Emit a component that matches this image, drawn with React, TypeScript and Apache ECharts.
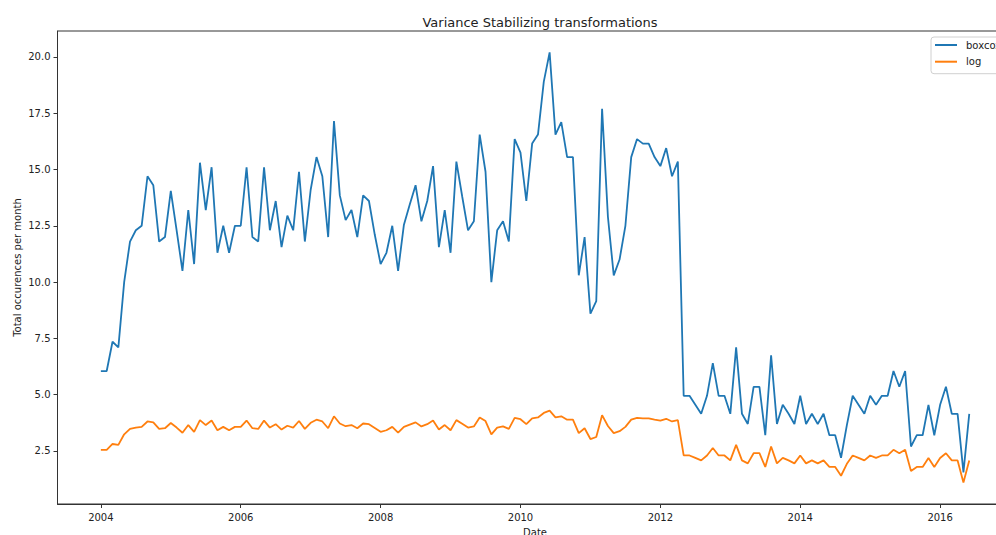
import React, { useEffect, useRef } from 'react';
import * as echarts from 'echarts';

const START_YEAR = 2004;

const boxcox = [
  6.05, 6.05, 7.35, 7.1, 10.0, 11.8, 12.3, 12.5, 14.7, 14.3, 11.8, 12.0,
  14.05, 12.3, 10.5, 13.2, 10.8, 15.3, 13.2, 15.1, 11.3, 12.5, 11.3, 12.5,
  12.5, 15.1, 12.0, 11.8, 15.1, 12.3, 13.6, 11.55, 12.95, 12.3, 14.9, 11.8,
  14.1, 15.55, 14.7, 12.0, 17.15, 13.85, 12.75, 13.2, 12.0, 13.85, 13.6, 12.1,
  10.8, 11.3, 12.5, 10.5, 12.55, 13.45, 14.3, 12.7, 13.6, 15.15, 11.55, 13.2,
  11.3, 15.35, 13.8, 12.3, 12.7, 16.55, 14.9, 10.0, 12.3, 12.7, 11.8, 16.35,
  15.75, 13.6, 16.15, 16.55, 18.9, 20.2, 16.55, 17.1, 15.55, 15.55, 10.3, 12.0,
  8.6, 9.15, 17.7, 12.9, 10.3, 11.0, 12.5, 15.55, 16.35, 16.15, 16.15, 15.55,
  15.15, 15.95, 14.7, 15.35, 4.95, 4.95, 4.55, 4.15, 4.95, 6.4, 4.95, 4.95,
  4.15, 7.1, 4.15, 3.7, 5.35, 5.35, 3.2, 6.75, 3.7, 4.55, 4.15, 3.7,
  4.95, 3.7, 4.15, 3.7, 4.15, 3.2, 3.2, 2.2, 3.65, 4.95, 4.55, 4.15,
  4.95, 4.55, 4.95, 4.95, 6.05, 5.35, 6.05, 2.7, 3.2, 3.2, 4.55, 3.2,
  4.55, 5.35, 4.15, 4.15, 1.55, 4.15,
];

const logValues = [
  2.55, 2.55, 2.81, 2.77, 3.24, 3.48, 3.54, 3.57, 3.81, 3.77, 3.48, 3.51,
  3.74, 3.54, 3.31, 3.65, 3.35, 3.87, 3.65, 3.85, 3.42, 3.57, 3.42, 3.57,
  3.57, 3.85, 3.51, 3.48, 3.85, 3.54, 3.69, 3.45, 3.62, 3.54, 3.83, 3.48,
  3.75, 3.89, 3.81, 3.51, 4.04, 3.72, 3.6, 3.65, 3.51, 3.72, 3.69, 3.52,
  3.35, 3.42, 3.57, 3.31, 3.57, 3.67, 3.77, 3.59, 3.69, 3.85, 3.45, 3.65,
  3.42, 3.87, 3.71, 3.54, 3.59, 3.99, 3.83, 3.24, 3.54, 3.59, 3.48, 3.97,
  3.91, 3.69, 3.95, 3.99, 4.19, 4.29, 3.99, 4.04, 3.89, 3.89, 3.29, 3.51,
  3.03, 3.12, 4.09, 3.61, 3.29, 3.38, 3.57, 3.89, 3.97, 3.95, 3.95, 3.89,
  3.85, 3.93, 3.81, 3.87, 2.3, 2.3, 2.19, 2.08, 2.3, 2.63, 2.3, 2.3,
  2.08, 2.77, 2.08, 1.95, 2.4, 2.4, 1.79, 2.7, 1.95, 2.19, 2.08, 1.95,
  2.3, 1.95, 2.08, 1.95, 2.08, 1.79, 1.79, 1.4, 1.93, 2.3, 2.19, 2.08,
  2.3, 2.19, 2.3, 2.3, 2.55, 2.4, 2.55, 1.61, 1.79, 1.79, 2.19, 1.79,
  2.19, 2.4, 2.08, 2.08, 1.1, 2.08,
];

const xTicks = [2004, 2006, 2008, 2010, 2012, 2014, 2016];
const yTicks = [2.5, 5, 7.5, 10, 12.5, 15, 17.5, 20];

const FONT = 'DejaVu Sans';
const TEXT = '#222';
const AXIS = '#333';

export default function App() {
  const ref = useRef<HTMLDivElement>(null);
  useEffect(() => {
    if (!ref.current) return;
    const chart = echarts.init(ref.current, null, { renderer: 'svg' });
    const xs = boxcox.map((_, i) => START_YEAR + i / 12);
    chart.setOption({
      animation: false,
      backgroundColor: '#fff',
      title: {
        text: 'Variance Stabilizing transformations',
        left: 535,
        top: 11,
        textAlign: 'center',
        textStyle: { fontFamily: FONT, fontSize: 13, fontWeight: 'normal', color: TEXT },
      },
      legend: {
        orient: 'vertical',
        left: 931,
        top: 37,
        data: ['boxcox', 'log'],
        icon: 'rect',
        itemWidth: 22,
        itemHeight: 2,
        itemGap: 4.7,
        padding: [2, 8, 6, 4],
        borderColor: '#d0d0d0',
        borderWidth: 1,
        borderRadius: 3,
        backgroundColor: 'rgba(255,255,255,0.8)',
        textStyle: { fontFamily: FONT, fontSize: 10, color: TEXT, lineHeight: 12, padding: [0, 0, 0, 4] },
      },
      grid: {
        left: 57.5,
        right: 17.5,
        top: 31,
        bottom: 31,
        containLabel: false,
        outerBoundsMode: 'none',
        show: true,
        borderColor: AXIS,
        borderWidth: 1,
        backgroundColor: 'transparent',
      },
      xAxis: {
        type: 'value',
        min: 2003.38,
        max: 2017.035,
        name: 'Date',
        nameLocation: 'middle',
        nameGap: 23,
        nameMoveOverlap: false,
        nameTextStyle: { fontFamily: FONT, fontSize: 10, color: TEXT },
        axisLine: { show: true, lineStyle: { color: AXIS, width: 1 } },
        axisTick: { show: true, length: 4, customValues: xTicks, lineStyle: { color: AXIS } },
        axisLabel: {
          customValues: xTicks,
          margin: 8,
          fontFamily: FONT,
          fontSize: 10,
          color: TEXT,
          formatter: (v: number) => String(Math.round(v)),
        },
        splitLine: { show: false },
      },
      yAxis: {
        type: 'value',
        min: 0.145,
        max: 21.15,
        name: 'Total occurences per month',
        nameLocation: 'middle',
        nameGap: 35,
        nameMoveOverlap: false,
        nameRotate: 90,
        nameTextStyle: { fontFamily: FONT, fontSize: 10, color: TEXT },
        axisLine: { show: true, lineStyle: { color: AXIS, width: 1 } },
        axisTick: { show: true, length: 4, customValues: yTicks, lineStyle: { color: AXIS } },
        axisLabel: {
          customValues: yTicks,
          margin: 7,
          fontFamily: FONT,
          fontSize: 10,
          color: TEXT,
          formatter: (v: number) => v.toFixed(1),
        },
        splitLine: { show: false },
      },
      series: [
        {
          name: 'boxcox',
          type: 'line',
          data: xs.map((x, i) => [x, boxcox[i]]),
          symbol: 'none',
          showSymbol: false,
          color: '#1f77b4',
          lineStyle: { color: '#1f77b4', width: 1.8 },
          z: 2,
        },
        {
          name: 'log',
          type: 'line',
          data: xs.map((x, i) => [x, logValues[i]]),
          symbol: 'none',
          showSymbol: false,
          color: '#ff7f0e',
          lineStyle: { color: '#ff7f0e', width: 1.8 },
          z: 3,
        },
      ],
    });
    return () => chart.dispose();
  }, []);
  return (
    <div
      style={{
        position: 'fixed',
        left: 0,
        top: 0,
        width: 996,
        height: 535,
        overflow: 'hidden',
        background: '#fff',
      }}
    >
      <div ref={ref} style={{ width: 1030, height: 535 }} />
    </div>
  );
}
